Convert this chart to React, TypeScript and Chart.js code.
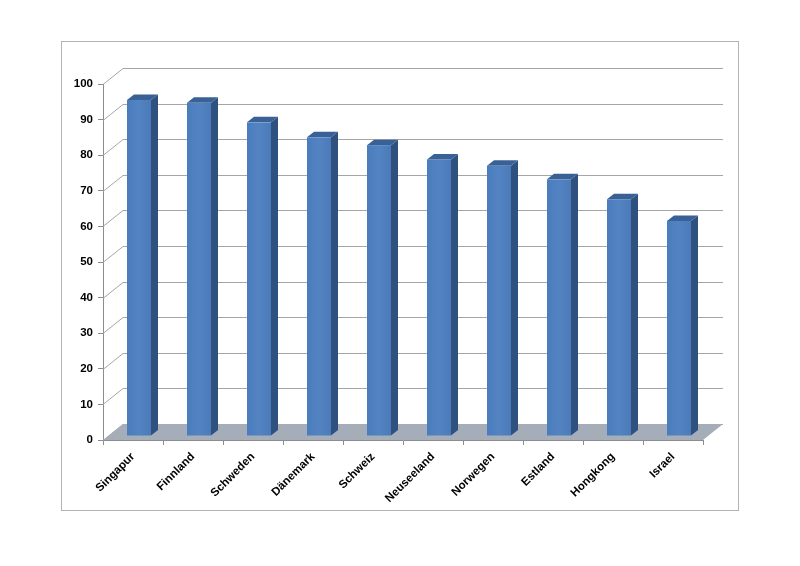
import React, { useEffect, useRef } from 'react';
import Chart from 'chart.js/auto';

const countries = ['Singapur', 'Finnland', 'Schweden', 'Dänemark', 'Schweiz', 'Neuseeland', 'Norwegen', 'Estland', 'Hongkong', 'Israel'];
const scores = [94.4, 93.6, 88.1, 83.9, 81.7, 77.7, 75.9, 72.1, 66.5, 60.4];
const yTicks = [0, 10, 20, 30, 40, 50, 60, 70, 80, 90, 100];

// oblique depth of the floor / back wall
const DEPTH_X = 20;
const DEPTH_Y = 16;

const wall3d = {
  id: 'wall3d',
  beforeDatasetsDraw(chart: any) {
    const { ctx, chartArea, scales } = chart;
    const { left, right, bottom } = chartArea;
    const y = scales.y;
    ctx.save();
    ctx.strokeStyle = '#a6a6a6';
    ctx.lineWidth = 1;
    yTicks.forEach(v => {
      const py = Math.round(y.getPixelForValue(v)) + 0.5;
      ctx.beginPath();
      ctx.moveTo(left, py);
      ctx.lineTo(left + DEPTH_X, py - DEPTH_Y);
      ctx.lineTo(right + DEPTH_X, py - DEPTH_Y);
      ctx.stroke();
    });
    // floor
    ctx.fillStyle = '#a5adb9';
    ctx.beginPath();
    ctx.moveTo(left, bottom);
    ctx.lineTo(right, bottom);
    ctx.lineTo(right + DEPTH_X, bottom - DEPTH_Y);
    ctx.lineTo(left + DEPTH_X, bottom - DEPTH_Y);
    ctx.closePath();
    ctx.fill();
    ctx.restore();
  },
  afterDatasetsDraw(chart: any) {
    const { ctx } = chart;
    const meta = chart.getDatasetMeta(0);
    ctx.save();
    meta.data.forEach((bar: any) => {
      const { x, y, base, width } = bar.getProps(['x', 'y', 'base', 'width'], true);
      const shiftX = 6;
      const shiftY = 4;
      const dx = 7;
      const dy = 5.5;
      const x0 = x - width / 2 + shiftX;
      const x1 = x + width / 2 + shiftX;
      const top = y - shiftY;
      const bot = base - shiftY;

      // side face
      ctx.fillStyle = '#2f5180';
      ctx.beginPath();
      ctx.moveTo(x1, top);
      ctx.lineTo(x1 + dx, top - dy);
      ctx.lineTo(x1 + dx, bot - dy);
      ctx.lineTo(x1, bot);
      ctx.closePath();
      ctx.fill();

      // top face
      ctx.fillStyle = '#3a6195';
      ctx.beginPath();
      ctx.moveTo(x0, top);
      ctx.lineTo(x0 + dx, top - dy);
      ctx.lineTo(x1 + dx, top - dy);
      ctx.lineTo(x1, top);
      ctx.closePath();
      ctx.fill();

      // front face
      const g = ctx.createLinearGradient(x0, 0, x1, 0);
      g.addColorStop(0, '#4a7cbb');
      g.addColorStop(0.5, '#5383c2');
      g.addColorStop(1, '#4a7ab7');
      ctx.fillStyle = g;
      ctx.fillRect(x0, top, x1 - x0, bot - top);
    });
    ctx.restore();
  },
};

const tickFont = { family: "'Liberation Sans', Arial, sans-serif", size: 11.5, weight: 'bold' as const };

const App: React.FC = () => {
  const canvasRef = useRef<HTMLCanvasElement>(null);
  const chartRef = useRef<Chart | null>(null);

  useEffect(() => {
    if (!canvasRef.current) return;
    if (chartRef.current) chartRef.current.destroy();

    chartRef.current = new Chart(canvasRef.current, {
      type: 'bar',
      data: {
        labels: countries,
        datasets: [{
          data: scores,
          backgroundColor: 'rgba(0,0,0,0)',
          barPercentage: 0.4,
          categoryPercentage: 1,
        }],
      },
      options: {
        responsive: true,
        maintainAspectRatio: false,
        animation: false,
        layout: { padding: { left: 60, right: 97, top: 84, bottom: 60 } },
        plugins: {
          legend: { display: false },
          tooltip: { enabled: false },
        },
        scales: {
          x: {
            grid: { display: true, drawOnChartArea: false, tickLength: 5, color: '#8c8c8c', offset: true },
            border: { display: true, color: '#8c8c8c' },
            ticks: { color: '#000', font: tickFont, minRotation: 45, maxRotation: 45, padding: 5 },
            afterFit: (scale: any) => { scale.height = 66; },
          },
          y: {
            min: 0,
            max: 100,
            grid: { display: true, drawOnChartArea: false, tickLength: 5, color: '#8c8c8c' },
            border: { display: true, color: '#8c8c8c' },
            ticks: { color: '#000', font: tickFont, stepSize: 10, padding: 5 },
            afterFit: (scale: any) => { scale.width = 43; },
          },
        },
      },
      plugins: [wall3d],
    });

    return () => {
      if (chartRef.current) {
        chartRef.current.destroy();
        chartRef.current = null;
      }
    };
  }, []);

  return (
    <div style={{ position: 'fixed', left: 0, top: 0, width: 800, height: 566, background: '#fff' }}>
      <div style={{
        position: 'absolute', left: 61, top: 41, width: 678, height: 470,
        border: '1px solid #b3b3b3', boxSizing: 'border-box',
      }} />
      <div style={{ position: 'absolute', left: 0, top: 0, width: 800, height: 566 }}>
        <canvas ref={canvasRef} />
      </div>
    </div>
  );
};

export default App;
